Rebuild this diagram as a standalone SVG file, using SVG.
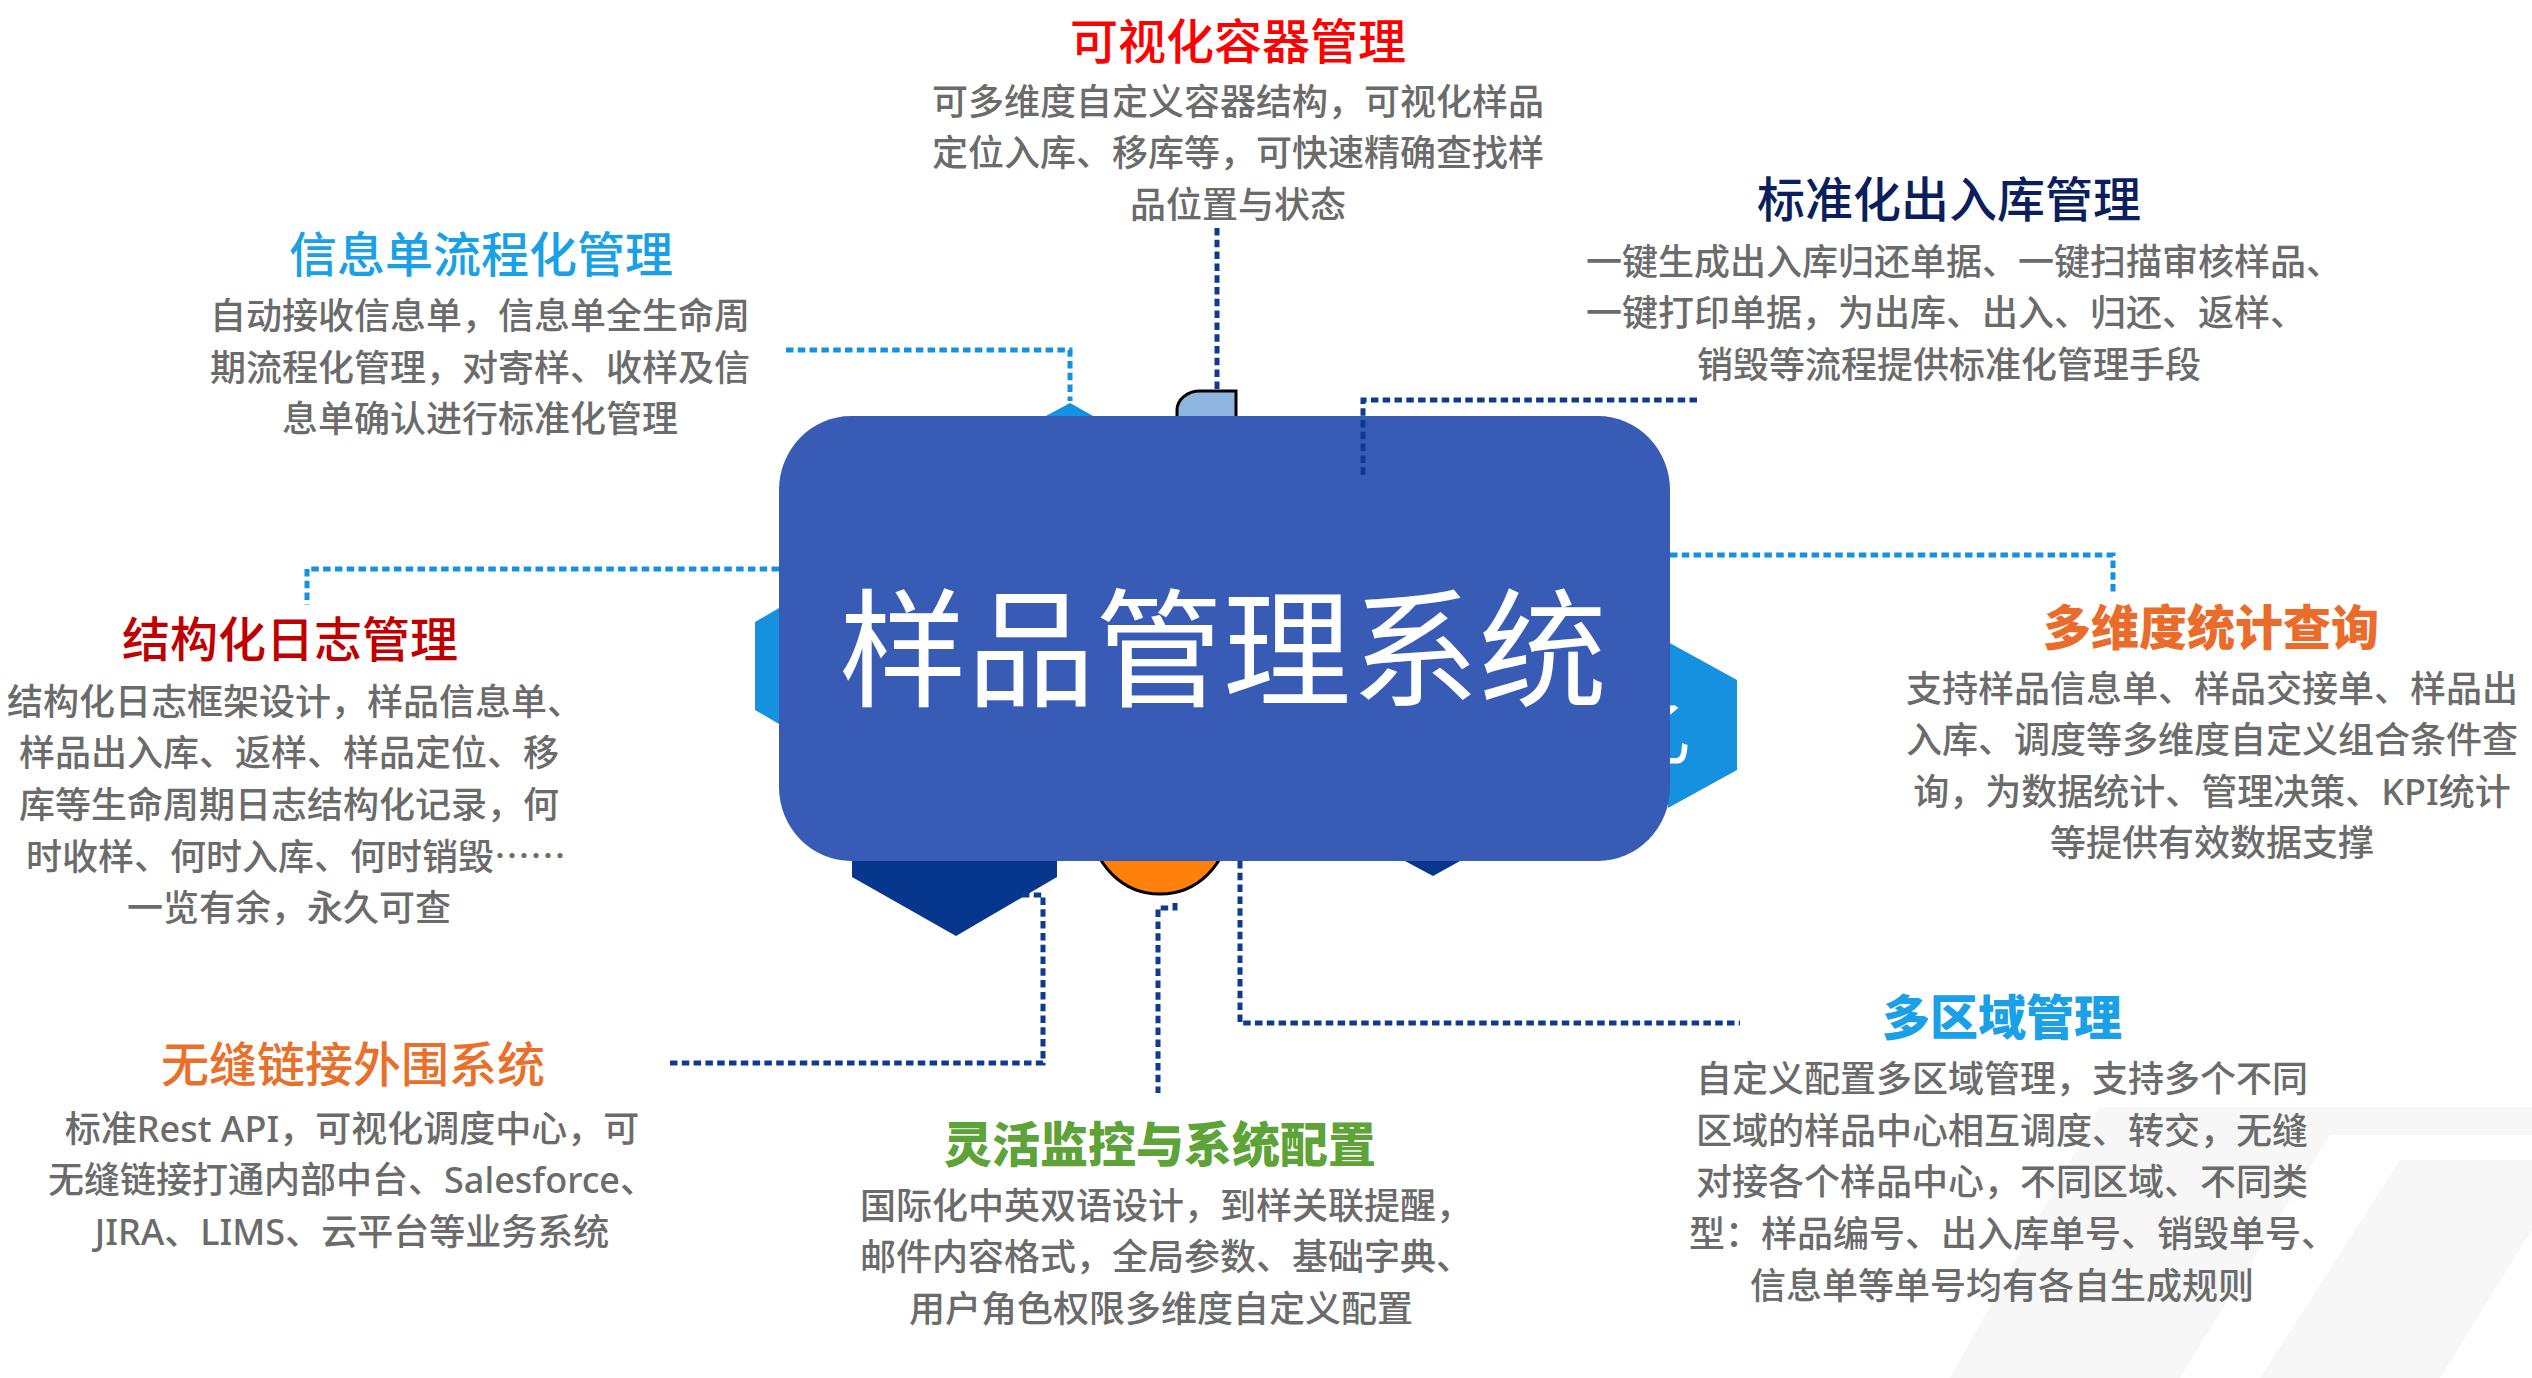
<svg xmlns="http://www.w3.org/2000/svg" width="2532" height="1378" viewBox="0 0 2532 1378">
<style>
.d{font-family:"Noto Sans CJK SC",sans-serif;font-size:36px;font-weight:500;fill:#6B6B6B;}
.dl{font-family:"Noto Sans","Noto Sans CJK SC",sans-serif;font-size:36px;font-weight:500;fill:#6B6B6B;}
.h{font-family:"Noto Sans CJK SC",sans-serif;font-size:48px;font-weight:500;}
.b{font-weight:900;}
.m{text-anchor:middle;}
.c1{fill:none;stroke:#1591DF;stroke-width:5;stroke-dasharray:7.5 4.3;}
.c2{fill:none;stroke:#0E3B8F;stroke-width:5;stroke-dasharray:7.5 4.3;}
.hexl{fill:#1591DF;}
.hexd{fill:#07378C;}
.bg{fill:#F7F7F7;}
</style>
<rect x="0" y="0" width="2532" height="1378" fill="#FFFFFF"/>
<g id="background">
<polygon class="bg" points="2100,1107 2532,1107 2532,1135 2330,1135 2180,1378 1950,1378"/>
<polygon class="bg" points="2400,1160 2532,1160 2532,1230 2440,1378 2260,1378"/>
</g>
<g id="center">
<polygon class="hexl" points="779,608 755,622 755,710 779,724"/>
<polygon class="hexl" points="1044,417 1070,403 1095,417"/>
<polygon class="hexl" points="1668,642 1737,680 1737,770 1668,808"/>
<text x="1620" y="760" font-family="Noto Sans CJK SC,sans-serif" font-size="72" fill="#FFFFFF">乙</text>
<path d="M1177,418 V410 A23,19 0 0 1 1200,391 H1236 V418 Z" fill="#8DB5E0" stroke="#000000" stroke-width="3"/>
<polygon class="hexd" points="852,850 852,877 956,936 1057,877 1057,850"/>
<polygon class="hexd" points="1405,850 1460,850 1460,861 1433,876 1405,861"/>
<circle cx="1160" cy="826" r="68" fill="#FF800A" stroke="#000000" stroke-width="3"/>
<rect x="779" y="416" width="891" height="445" rx="72" ry="74" fill="#385BB5"/>
<text x="1223" y="697" class="m" font-family="Noto Sans CJK SC,sans-serif" font-size="128" fill="#FFFFFF">样品管理系统</text>
</g>
<g id="connectors">
<path class="c1" d="M786,350 H1070 V401"/>
<path class="c2" d="M1217,228 V390"/>
<path class="c2" d="M1697,400 H1363 V476"/>
<path class="c1" d="M779,569 H307 V605"/>
<path class="c1" d="M1670,555 H2113 V593"/>
<path class="c2" d="M1240,861 V1023 H1740"/>
<path class="c2" d="M1175,903 V908 H1158 V1093"/>
<path class="c2" d="M670,1063 H1043 V895 H1019"/>
</g>
<g id="node-container">
<text x="1238" y="59" class="h m" fill="#FF0000">可视化容器管理</text>
<text x="1238" y="115" class="d m">可多维度自定义容器结构，可视化样品</text>
<text x="1238" y="166" class="d m">定位入库、移库等，可快速精确查找样</text>
<text x="1238" y="218" class="d m">品位置与状态</text>
</g>
<g id="node-infosheet">
<text x="481" y="272" class="h m" fill="#1AA0E6">信息单流程化管理</text>
<text x="480" y="329" class="d m">自动接收信息单，信息单全生命周</text>
<text x="480" y="381" class="d m">期流程化管理，对寄样、收样及信</text>
<text x="480" y="432" class="d m">息单确认进行标准化管理</text>
</g>
<g id="node-log">
<text x="290" y="657" class="h m" fill="#C00000">结构化日志管理</text>
<text x="7" y="715" class="d">结构化日志框架设计，样品信息单、</text>
<text x="289" y="766" class="d m">样品出入库、返样、样品定位、移</text>
<text x="289" y="818" class="d m">库等生命周期日志结构化记录，何</text>
<text x="26" y="870" class="d">时收样、何时入库、何时销毁……</text>
<text x="289" y="921" class="d m">一览有余，永久可查</text>
</g>
<g id="node-inout">
<text x="1949" y="217" class="h m" fill="#0B1F5E">标准化出入库管理</text>
<text x="1586" y="275" class="d">一键生成出入库归还单据、一键扫描审核样品、</text>
<text x="1586" y="326" class="d">一键打印单据，为出库、出入、归还、返样、</text>
<text x="1949" y="378" class="d m">销毁等流程提供标准化管理手段</text>
</g>
<g id="node-stats">
<text x="2211" y="645" class="h m b" fill="#EB6B2A">多维度统计查询</text>
<text x="2212" y="702" class="d m">支持样品信息单、样品交接单、样品出</text>
<text x="2212" y="753" class="d m">入库、调度等多维度自定义组合条件查</text>
<text x="2212" y="805" class="dl m">询，为数据统计、管理决策、KPI统计</text>
<text x="2212" y="856" class="d m">等提供有效数据支撑</text>
</g>
<g id="node-region">
<text x="2002" y="1035" class="h m b" fill="#1AA0E6">多区域管理</text>
<text x="2002" y="1092" class="d m">自定义配置多区域管理，支持多个不同</text>
<text x="2002" y="1144" class="d m">区域的样品中心相互调度、转交，无缝</text>
<text x="2002" y="1195" class="d m">对接各个样品中心，不同区域、不同类</text>
<text x="1689" y="1247" class="d">型：样品编号、出入库单号、销毁单号、</text>
<text x="2002" y="1299" class="d m">信息单等单号均有各自生成规则</text>
</g>
<g id="node-monitor">
<text x="1160" y="1162" class="h m b" fill="#5EA338">灵活监控与系统配置</text>
<text x="860" y="1219" class="d">国际化中英双语设计，到样关联提醒，</text>
<text x="860" y="1270" class="d">邮件内容格式，全局参数、基础字典、</text>
<text x="1161" y="1322" class="d m">用户角色权限多维度自定义配置</text>
</g>
<g id="node-external">
<text x="353" y="1082" class="h m" fill="#E8702A">无缝链接外围系统</text>
<text x="352" y="1142" class="dl m">标准Rest API，可视化调度中心，可</text>
<text x="352" y="1193" class="dl m">无缝链接打通内部中台、Salesforce、</text>
<text x="352" y="1245" class="dl m">JIRA、LIMS、云平台等业务系统</text>
</g>
</svg>
